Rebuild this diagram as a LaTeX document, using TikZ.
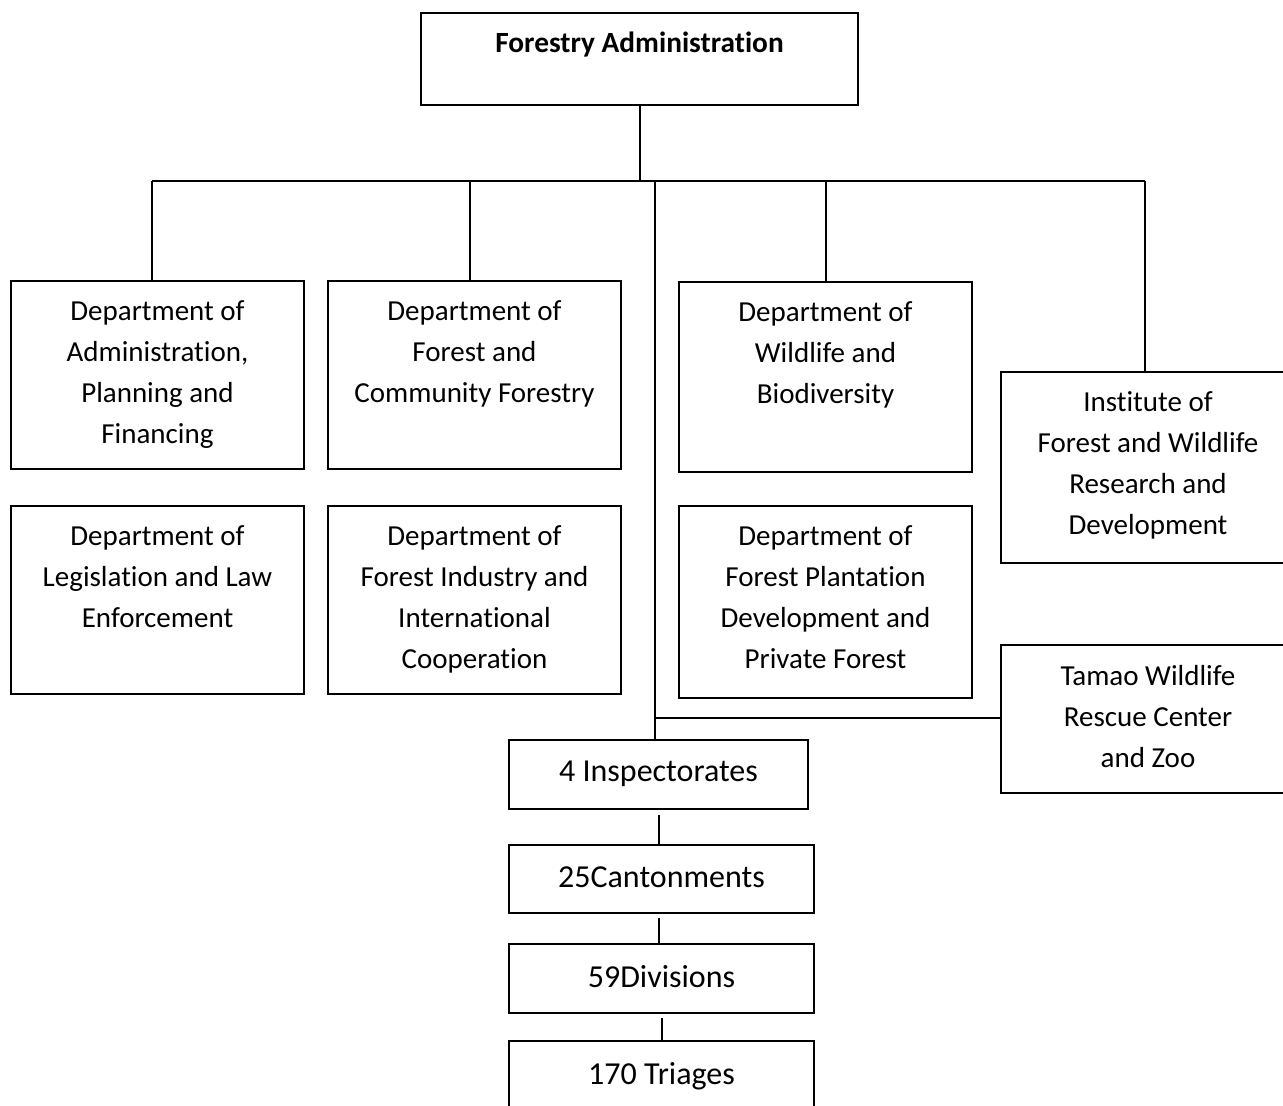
\documentclass[tikz,border=0pt]{standalone}
\usepackage{fontspec}
\setmainfont[Ligatures=NoCommon]{Carlito}
\begin{document}
\begin{tikzpicture}[x=0.75pt,y=-0.75pt,
 box/.style={draw=black, line width=1.5pt, inner sep=0pt, rectangle},
 txt/.style={align=center, inner sep=0pt, anchor=north, font=\fontsize{21.75pt}{30.75pt}\selectfont},
 big/.style={txt, font=\fontsize{24pt}{30.75pt}\selectfont},
 con/.style={line width=1.5pt, draw=black}]
\clip (0,0) rectangle (1283,1106);
\fill[white] (0,0) rectangle (1283,1106);
% boxes
\node[box, minimum width=327.75pt, minimum height=69pt] (fa) at (639.5,59) {};
\node[box, minimum width=219.75pt, minimum height=141pt] (a1) at (157.5,375) {};
\node[box, minimum width=219.75pt, minimum height=141pt] (a2) at (474.5,375) {};
\node[box, minimum width=219.75pt, minimum height=141pt] (b1) at (157.5,600) {};
\node[box, minimum width=219.75pt, minimum height=141pt] (b2) at (474.5,600) {};
\node[box, minimum width=219.75pt, minimum height=142.5pt] (c1) at (825.5,377) {};
\node[box, minimum width=219.75pt, minimum height=144pt] (c2) at (825.5,602) {};
\node[box, minimum width=220.5pt, minimum height=143.25pt] (d1) at (1148,467.5) {};
\node[box, minimum width=220.5pt, minimum height=111pt] (d2) at (1148,719) {};
\node[box, minimum width=224.25pt, minimum height=51.75pt] (ins) at (658.5,774.5) {};
\node[box, minimum width=228.75pt, minimum height=51pt] (can) at (661.5,879) {};
\node[box, minimum width=228.75pt, minimum height=51.75pt] (div) at (661.5,978.5) {};
\node[box, minimum width=228.75pt, minimum height=66pt] (tri) at (661.5,1085) {};
% texts
\node[txt, font=\fontsize{22pt}{30.75pt}\selectfont\bfseries] (tfa) at ([yshift=-14.5pt]fa.north) {Forestry Administration};
\node[txt] (ta1) at ([yshift=-15.5pt]a1.north) {Department of\\Administration,\\Planning and\\Financing};
\node[txt] (ta2) at ([yshift=-15.5pt]a2.north) {Department of\\Forest and\\Community Forestry};
\node[txt] (tb1) at ([yshift=-15.5pt]b1.north) {Department of\\Legislation and Law\\Enforcement};
\node[txt] (tb2) at ([yshift=-15.5pt]b2.north) {Department of\\Forest Industry and\\International\\Cooperation};
\node[txt] (tc1) at ([yshift=-15.5pt]c1.north) {Department of\\Wildlife and\\Biodiversity};
\node[txt] (tc2) at ([yshift=-15.5pt]c2.north) {Department of\\Forest Plantation\\Development and\\Private Forest};
\node[txt] (td1) at ([yshift=-15.5pt]d1.north) {Institute of\\Forest and Wildlife\\Research and\\Development};
\node[txt] (td2) at ([yshift=-15.5pt]d2.north) {Tamao Wildlife\\Rescue Center\\and Zoo};
\node[big] (tins) at ([yshift=-16.5pt]ins.north) {4 Inspectorates};
\node[big] (tcan) at ([yshift=-16.5pt]can.north) {25Cantonments};
\node[big] (tdiv) at ([yshift=-16.5pt]div.north) {59Divisions};
\node[big] (ttri) at ([yshift=-16.5pt]tri.north) {170 Triages};
% connectors
\coordinate (bl) at (152,181);
\coordinate (br) at (1145,181);
\coordinate (j2) at (470,181);
\coordinate (j3) at (826,181);
\coordinate (j4) at (655,181);
\coordinate (j5) at (655,718);
\draw[con] (bl) -- (br);
\draw[con] (fa.south) -- (fa.south |- bl);
\draw[con] (bl) -- (bl |- a1.north);
\draw[con] (j2) -- (j2 |- a2.north);
\draw[con] (j3) -- (j3 |- c1.north);
\draw[con] (br) -- (br |- d1.north);
\draw[con] (j4) -- (j4 |- ins.north);
\draw[con] (j5) -- (j5 -| d2.west);
\draw[con, shorten <=3.5pt] (ins.south) -- (ins.south |- can.north);
\draw[con, shorten <=3pt] ([xshift=-2.25pt]can.south) -- ([xshift=-2.25pt]can.south |- div.north);
\draw[con, shorten <=3pt] (div.south) -- (div.south |- tri.north);
\end{tikzpicture}
\end{document}
